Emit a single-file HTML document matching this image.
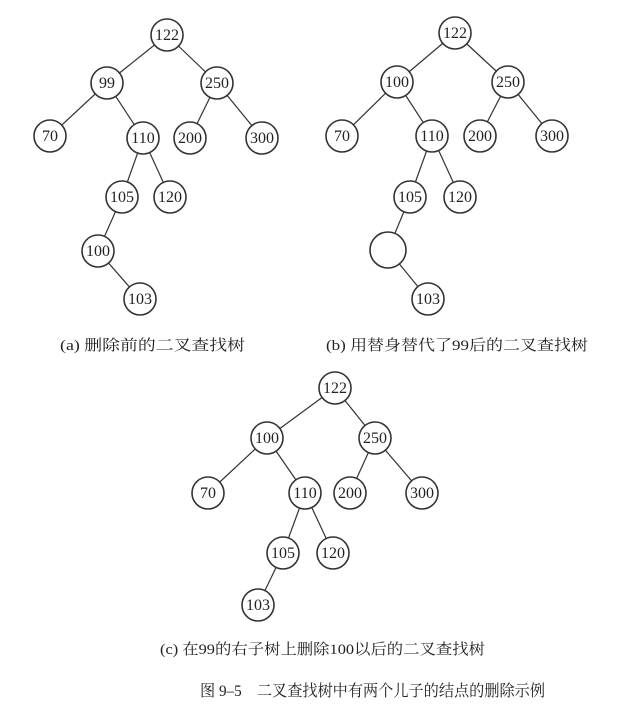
<!DOCTYPE html>
<html><head><meta charset="utf-8"><style>
body{margin:0;background:#fff;width:631px;height:710px;overflow:hidden}
svg text{font-family:"Liberation Serif","Noto Serif CJK SC",serif;fill:#222}
</style></head><body>
<svg width="631" height="710" viewBox="0 0 631 710" xmlns="http://www.w3.org/2000/svg">
<g stroke="#333" stroke-width="1.2" fill="none">
<line x1="167" y1="35" x2="107" y2="83"/><line x1="167" y1="35" x2="217" y2="83"/>
<line x1="107" y1="83" x2="50" y2="136"/><line x1="107" y1="83" x2="143" y2="138"/>
<line x1="217" y1="83" x2="190" y2="138"/><line x1="217" y1="83" x2="262" y2="138"/>
<line x1="143" y1="138" x2="122" y2="197"/><line x1="143" y1="138" x2="170" y2="197"/>
<line x1="122" y1="197" x2="98" y2="251"/><line x1="98" y1="251" x2="140" y2="299"/>
<line x1="455" y1="33" x2="397" y2="82"/><line x1="455" y1="33" x2="508" y2="82"/>
<line x1="397" y1="82" x2="342" y2="136"/><line x1="397" y1="82" x2="432" y2="136"/>
<line x1="508" y1="82" x2="480" y2="136"/><line x1="508" y1="82" x2="552" y2="136"/>
<line x1="432" y1="136" x2="410" y2="197"/><line x1="432" y1="136" x2="460" y2="197"/>
<line x1="410" y1="197" x2="388" y2="250"/><line x1="388" y1="250" x2="428" y2="299"/>
<line x1="335" y1="388" x2="267" y2="438"/><line x1="335" y1="388" x2="375" y2="438"/>
<line x1="267" y1="438" x2="208" y2="493"/><line x1="267" y1="438" x2="305" y2="493"/>
<line x1="375" y1="438" x2="350" y2="493"/><line x1="375" y1="438" x2="422" y2="493"/>
<line x1="305" y1="493" x2="283" y2="553"/><line x1="305" y1="493" x2="333" y2="553"/>
<line x1="283" y1="553" x2="258" y2="605"/>
</g>
<g font-size="16" text-anchor="middle">
<g stroke="#333" stroke-width="1.6" fill="#fff">
<circle cx="167" cy="35" r="16"/><circle cx="107" cy="83" r="16"/><circle cx="217" cy="83" r="16"/>
<circle cx="50" cy="136" r="16"/><circle cx="143" cy="138" r="16"/><circle cx="190" cy="138" r="16"/><circle cx="262" cy="138" r="16"/>
<circle cx="122" cy="197" r="16"/><circle cx="170" cy="197" r="16"/><circle cx="98" cy="251" r="16"/><circle cx="140" cy="299" r="16"/>
<circle cx="455" cy="33" r="16"/><circle cx="397" cy="82" r="16"/><circle cx="508" cy="82" r="16"/>
<circle cx="342" cy="136" r="16"/><circle cx="432" cy="136" r="16"/><circle cx="480" cy="136" r="16"/><circle cx="552" cy="136" r="16"/>
<circle cx="410" cy="197" r="16"/><circle cx="460" cy="197" r="16"/><circle cx="388" cy="250" r="18"/><circle cx="428" cy="299" r="16"/>
<circle cx="335" cy="388" r="16"/><circle cx="267" cy="438" r="16"/><circle cx="375" cy="438" r="16"/>
<circle cx="208" cy="493" r="16"/><circle cx="305" cy="493" r="16"/><circle cx="350" cy="493" r="16"/><circle cx="422" cy="493" r="16"/>
<circle cx="283" cy="553" r="16"/><circle cx="333" cy="553" r="16"/><circle cx="258" cy="605" r="16"/>
</g>
<text x="167" y="40">122</text><text x="107" y="88">99</text><text x="217" y="88">250</text>
<text x="50" y="141">70</text><text x="143" y="143">110</text><text x="190" y="143">200</text><text x="262" y="143">300</text>
<text x="122" y="202">105</text><text x="170" y="202">120</text><text x="98" y="256">100</text><text x="140" y="304">103</text>
<text x="455" y="38">122</text><text x="397" y="87">100</text><text x="508" y="87">250</text>
<text x="342" y="141">70</text><text x="432" y="141">110</text><text x="480" y="141">200</text><text x="552" y="141">300</text>
<text x="410" y="202">105</text><text x="460" y="202">120</text><text x="428" y="304">103</text>
<text x="335" y="393">122</text><text x="267" y="443">100</text><text x="375" y="443">250</text>
<text x="208" y="498">70</text><text x="305" y="498">110</text><text x="350" y="498">200</text><text x="422" y="498">300</text>
<text x="283" y="558">105</text><text x="333" y="558">120</text><text x="258" y="610">103</text>
</g>
<g font-size="15">
<text x="60" y="350" textLength="185" lengthAdjust="spacingAndGlyphs">(a) 删除前的二叉查找树</text>
<text x="326" y="350" textLength="262" lengthAdjust="spacingAndGlyphs">(b) 用替身替代了99后的二叉查找树</text>
<text x="160" y="654" textLength="325" lengthAdjust="spacingAndGlyphs">(c) 在99的右子树上删除100以后的二叉查找树</text>
<text x="200" y="696" font-size="16" textLength="345" lengthAdjust="spacingAndGlyphs">图 9–5　二叉查找树中有两个儿子的结点的删除示例</text>
</g>
</svg>
</body></html>
